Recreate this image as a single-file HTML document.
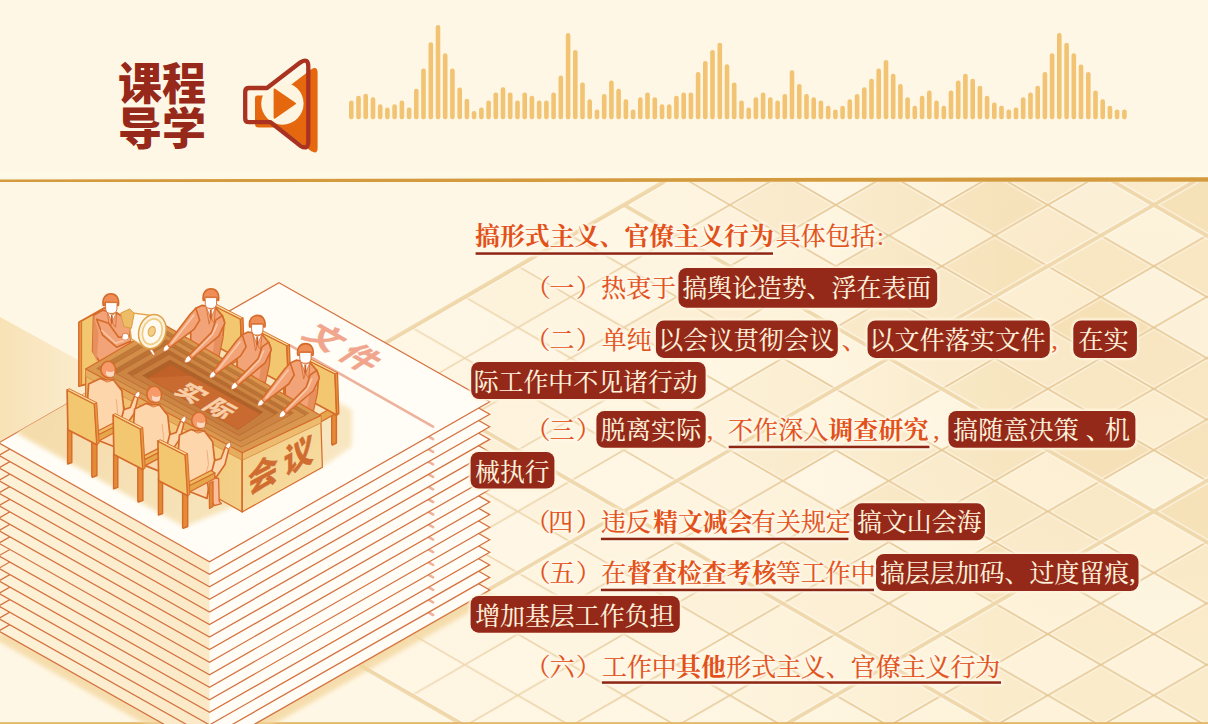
<!DOCTYPE html>
<html lang="zh-CN"><head><meta charset="utf-8"><title>课程导学</title>
<style>
html,body{margin:0;padding:0;background:#fff7e5;}
body{width:1208px;height:724px;overflow:hidden;position:relative;font-family:"Liberation Serif",serif;}
#stage{position:absolute;left:0;top:0;width:1208px;height:724px;overflow:hidden;background:#fff7e5;}
#stage svg{position:absolute;left:0;top:0;display:block;}
.sr{position:absolute;color:transparent;font-size:24.9px;line-height:36px;height:36px;white-space:nowrap;margin:0;padding:0;overflow:hidden;font-weight:normal;}
.sr b,.sr u,.sr mark{color:transparent;background:transparent;text-decoration:none;font-weight:normal;}
</style></head><body>
<div id="stage">
<svg width="1208" height="724" viewBox="0 0 1208 724">
<defs><filter id="tglow" x="-5%" y="-5%" width="110%" height="110%"><feGaussianBlur stdDeviation="1.3"/></filter><filter id="bglow" x="-5%" y="-20%" width="110%" height="140%"><feGaussianBlur stdDeviation="1.3"/></filter><pattern id="latc" patternUnits="userSpaceOnUse" width="106" height="61.31" patternTransform="translate(-12.2 -40.34)"><rect width="106" height="61.31" fill="#fef3da"/><path d="M0 0H106 L53 30.655 Z M0 61.31 H106 L53 30.655 Z" fill="#faebca"/></pattern><pattern id="latl" patternUnits="userSpaceOnUse" width="106" height="61.31" patternTransform="translate(-12.2 -40.34)"><path d="M0 0L106 61.31 M0 61.31 L106 0" stroke="#fff9ec" stroke-width="4.6" opacity=".6" fill="none"/><path d="M0 0L106 61.31 M0 61.31 L106 0" stroke="#e6c894" stroke-width="1.7" fill="none"/></pattern><clipPath id="latclip"><path d="M663.4 182.0L1208.0 182.0L1208.0 724.0L461.3 724.0L93.8 511.5"/></clipPath><linearGradient id="gThin" x1="380" x2="800" y1="0" y2="0" gradientUnits="userSpaceOnUse"><stop offset="0" stop-color="#fff" stop-opacity=".55"/><stop offset="1" stop-color="#fff" stop-opacity="1"/></linearGradient><mask id="mThin" maskUnits="userSpaceOnUse" x="0" y="0" width="1208" height="724"><rect width="1208" height="724" fill="url(#gThin)"/></mask><radialGradient id="tintR" cx="1150" cy="330" r="330" gradientUnits="userSpaceOnUse"><stop offset="0" stop-color="#f3d9a8" stop-opacity=".3"/><stop offset="1" stop-color="#f3d9a8" stop-opacity="0"/></radialGradient><linearGradient id="tintL" x1="360" x2="1000" y1="0" y2="0" gradientUnits="userSpaceOnUse"><stop offset="0" stop-color="#fff7e5" stop-opacity=".92"/><stop offset=".55" stop-color="#fff7e5" stop-opacity=".78"/><stop offset=".8" stop-color="#fff7e5" stop-opacity=".4"/><stop offset="1" stop-color="#fff7e5" stop-opacity="0"/></linearGradient><linearGradient id="wedge" x1="0" x2="1" y1="0" y2="0"><stop offset="0" stop-color="#f8e2b6"/><stop offset="1" stop-color="#fbeccd" stop-opacity=".55"/></linearGradient><linearGradient id="lface" x1="0" x2="1" y1="0" y2="0"><stop offset="0" stop-color="#fdf2d8"/><stop offset="1" stop-color="#fbe9c6"/></linearGradient><linearGradient id="topsh" gradientUnits="userSpaceOnUse" x1="60" y1="380" x2="330" y2="520"><stop offset="0" stop-color="#f5dba8"/><stop offset="1" stop-color="#f8e6bf"/></linearGradient><filter id="soft" x="-10%" y="-10%" width="120%" height="120%"><feGaussianBlur stdDeviation="4"/></filter><filter id="soft3" x="-10%" y="-10%" width="120%" height="120%"><feGaussianBlur stdDeviation="2"/></filter><filter id="soft2" x="-10%" y="-10%" width="120%" height="120%"><feGaussianBlur stdDeviation="2.2"/></filter><linearGradient id="tfR" x1="0" x2="1" y1="0" y2="1"><stop offset="0" stop-color="#f2cd84"/><stop offset="1" stop-color="#f8e0a8"/></linearGradient><linearGradient id="tfL" x1="0" x2="1" y1="0" y2="0"><stop offset="0" stop-color="#eebd6a"/><stop offset="1" stop-color="#f4d088"/></linearGradient></defs>
<rect width="1208" height="724" fill="#fff7e5"/><g clip-path="url(#latclip)"><rect x="0" y="182" width="1208" height="542" fill="url(#latc)"/><rect x="0" y="182" width="1208" height="542" fill="url(#tintR)"/><rect x="0" y="182" width="1208" height="542" fill="url(#tintL)"/><path d="M466.8 174.2l51.0 -29.5l51.0 29.5l-51.0 29.5z" fill="#fffbf0" opacity="0.13"/><path d="M678.8 174.2l51.0 -29.5l51.0 29.5l-51.0 29.5z" fill="#efcf97" opacity="0.14"/><path d="M784.8 174.2l51.0 -29.5l51.0 29.5l-51.0 29.5z" fill="#fffbf0" opacity="0.23"/><path d="M996.8 174.2l51.0 -29.5l51.0 29.5l-51.0 29.5z" fill="#efcf97" opacity="0.20"/><path d="M1102.8 174.2l51.0 -29.5l51.0 29.5l-51.0 29.5z" fill="#efcf97" opacity="0.12"/><path d="M1208.8 174.2l51.0 -29.5l51.0 29.5l-51.0 29.5z" fill="#fffbf0" opacity="0.50"/><path d="M413.8 204.9l51.0 -29.5l51.0 29.5l-51.0 29.5z" fill="#efcf97" opacity="0.07"/><path d="M572.8 235.6l51.0 -29.5l51.0 29.5l-51.0 29.5z" fill="#fffbf0" opacity="0.24"/><path d="M731.8 204.9l51.0 -29.5l51.0 29.5l-51.0 29.5z" fill="#efcf97" opacity="0.21"/><path d="M678.8 235.6l51.0 -29.5l51.0 29.5l-51.0 29.5z" fill="#efcf97" opacity="0.08"/><path d="M837.8 204.9l51.0 -29.5l51.0 29.5l-51.0 29.5z" fill="#efcf97" opacity="0.16"/><path d="M943.8 204.9l51.0 -29.5l51.0 29.5l-51.0 29.5z" fill="#efcf97" opacity="0.23"/><path d="M1049.8 204.9l51.0 -29.5l51.0 29.5l-51.0 29.5z" fill="#fffbf0" opacity="0.41"/><path d="M996.8 235.6l51.0 -29.5l51.0 29.5l-51.0 29.5z" fill="#efcf97" opacity="0.11"/><path d="M1155.8 204.9l51.0 -29.5l51.0 29.5l-51.0 29.5z" fill="#efcf97" opacity="0.25"/><path d="M1102.8 235.6l51.0 -29.5l51.0 29.5l-51.0 29.5z" fill="#fffbf0" opacity="0.34"/><path d="M1208.8 235.6l51.0 -29.5l51.0 29.5l-51.0 29.5z" fill="#fffbf0" opacity="0.34"/><path d="M466.8 296.9l51.0 -29.5l51.0 29.5l-51.0 29.5z" fill="#efcf97" opacity="0.10"/><path d="M678.8 296.9l51.0 -29.5l51.0 29.5l-51.0 29.5z" fill="#efcf97" opacity="0.20"/><path d="M837.8 266.2l51.0 -29.5l51.0 29.5l-51.0 29.5z" fill="#efcf97" opacity="0.19"/><path d="M943.8 266.2l51.0 -29.5l51.0 29.5l-51.0 29.5z" fill="#efcf97" opacity="0.21"/><path d="M890.8 296.9l51.0 -29.5l51.0 29.5l-51.0 29.5z" fill="#efcf97" opacity="0.25"/><path d="M1102.8 296.9l51.0 -29.5l51.0 29.5l-51.0 29.5z" fill="#fffbf0" opacity="0.46"/><path d="M413.8 327.5l51.0 -29.5l51.0 29.5l-51.0 29.5z" fill="#fffbf0" opacity="0.23"/><path d="M466.8 358.2l51.0 -29.5l51.0 29.5l-51.0 29.5z" fill="#fffbf0" opacity="0.20"/><path d="M625.8 327.5l51.0 -29.5l51.0 29.5l-51.0 29.5z" fill="#efcf97" opacity="0.13"/><path d="M837.8 327.5l51.0 -29.5l51.0 29.5l-51.0 29.5z" fill="#efcf97" opacity="0.18"/><path d="M943.8 327.5l51.0 -29.5l51.0 29.5l-51.0 29.5z" fill="#efcf97" opacity="0.20"/><path d="M890.8 358.2l51.0 -29.5l51.0 29.5l-51.0 29.5z" fill="#efcf97" opacity="0.13"/><path d="M1049.8 327.5l51.0 -29.5l51.0 29.5l-51.0 29.5z" fill="#efcf97" opacity="0.27"/><path d="M996.8 358.2l51.0 -29.5l51.0 29.5l-51.0 29.5z" fill="#efcf97" opacity="0.15"/><path d="M1155.8 327.5l51.0 -29.5l51.0 29.5l-51.0 29.5z" fill="#fffbf0" opacity="0.51"/><path d="M1102.8 358.2l51.0 -29.5l51.0 29.5l-51.0 29.5z" fill="#efcf97" opacity="0.20"/><path d="M466.8 419.5l51.0 -29.5l51.0 29.5l-51.0 29.5z" fill="#efcf97" opacity="0.09"/><path d="M625.8 388.8l51.0 -29.5l51.0 29.5l-51.0 29.5z" fill="#fffbf0" opacity="0.26"/><path d="M731.8 388.8l51.0 -29.5l51.0 29.5l-51.0 29.5z" fill="#efcf97" opacity="0.10"/><path d="M678.8 419.5l51.0 -29.5l51.0 29.5l-51.0 29.5z" fill="#efcf97" opacity="0.09"/><path d="M943.8 388.8l51.0 -29.5l51.0 29.5l-51.0 29.5z" fill="#efcf97" opacity="0.10"/><path d="M890.8 419.5l51.0 -29.5l51.0 29.5l-51.0 29.5z" fill="#fffbf0" opacity="0.36"/><path d="M413.8 450.1l51.0 -29.5l51.0 29.5l-51.0 29.5z" fill="#efcf97" opacity="0.13"/><path d="M572.8 480.8l51.0 -29.5l51.0 29.5l-51.0 29.5z" fill="#fffbf0" opacity="0.17"/><path d="M731.8 450.1l51.0 -29.5l51.0 29.5l-51.0 29.5z" fill="#efcf97" opacity="0.18"/><path d="M678.8 480.8l51.0 -29.5l51.0 29.5l-51.0 29.5z" fill="#efcf97" opacity="0.07"/><path d="M837.8 450.1l51.0 -29.5l51.0 29.5l-51.0 29.5z" fill="#efcf97" opacity="0.13"/><path d="M784.8 480.8l51.0 -29.5l51.0 29.5l-51.0 29.5z" fill="#fffbf0" opacity="0.23"/><path d="M943.8 450.1l51.0 -29.5l51.0 29.5l-51.0 29.5z" fill="#efcf97" opacity="0.13"/><path d="M890.8 480.8l51.0 -29.5l51.0 29.5l-51.0 29.5z" fill="#efcf97" opacity="0.18"/><path d="M1049.8 450.1l51.0 -29.5l51.0 29.5l-51.0 29.5z" fill="#efcf97" opacity="0.29"/><path d="M1155.8 450.1l51.0 -29.5l51.0 29.5l-51.0 29.5z" fill="#efcf97" opacity="0.16"/><path d="M1102.8 480.8l51.0 -29.5l51.0 29.5l-51.0 29.5z" fill="#fffbf0" opacity="0.36"/><path d="M1261.8 450.1l51.0 -29.5l51.0 29.5l-51.0 29.5z" fill="#efcf97" opacity="0.29"/><path d="M413.8 511.4l51.0 -29.5l51.0 29.5l-51.0 29.5z" fill="#fffbf0" opacity="0.18"/><path d="M519.8 511.4l51.0 -29.5l51.0 29.5l-51.0 29.5z" fill="#efcf97" opacity="0.06"/><path d="M466.8 542.1l51.0 -29.5l51.0 29.5l-51.0 29.5z" fill="#fffbf0" opacity="0.15"/><path d="M572.8 542.1l51.0 -29.5l51.0 29.5l-51.0 29.5z" fill="#efcf97" opacity="0.05"/><path d="M837.8 511.4l51.0 -29.5l51.0 29.5l-51.0 29.5z" fill="#efcf97" opacity="0.21"/><path d="M784.8 542.1l51.0 -29.5l51.0 29.5l-51.0 29.5z" fill="#efcf97" opacity="0.19"/><path d="M996.8 542.1l51.0 -29.5l51.0 29.5l-51.0 29.5z" fill="#efcf97" opacity="0.18"/><path d="M1155.8 511.4l51.0 -29.5l51.0 29.5l-51.0 29.5z" fill="#efcf97" opacity="0.27"/><path d="M1208.8 542.1l51.0 -29.5l51.0 29.5l-51.0 29.5z" fill="#fffbf0" opacity="0.32"/><path d="M678.8 603.4l51.0 -29.5l51.0 29.5l-51.0 29.5z" fill="#efcf97" opacity="0.13"/><path d="M837.8 572.8l51.0 -29.5l51.0 29.5l-51.0 29.5z" fill="#fffbf0" opacity="0.25"/><path d="M784.8 603.4l51.0 -29.5l51.0 29.5l-51.0 29.5z" fill="#efcf97" opacity="0.14"/><path d="M943.8 572.8l51.0 -29.5l51.0 29.5l-51.0 29.5z" fill="#efcf97" opacity="0.25"/><path d="M1049.8 572.8l51.0 -29.5l51.0 29.5l-51.0 29.5z" fill="#fffbf0" opacity="0.53"/><path d="M1102.8 603.4l51.0 -29.5l51.0 29.5l-51.0 29.5z" fill="#fffbf0" opacity="0.32"/><path d="M1261.8 572.8l51.0 -29.5l51.0 29.5l-51.0 29.5z" fill="#efcf97" opacity="0.14"/><path d="M1208.8 603.4l51.0 -29.5l51.0 29.5l-51.0 29.5z" fill="#efcf97" opacity="0.24"/><g mask="url(#mThin)"><rect x="0" y="182" width="1208" height="542" fill="url(#latl)"/></g><path d="M-20.0 577.3L1230.0 -145.7M-20.0 883.8L1230.0 160.8M-20.0 1190.4L1230.0 467.4M-20.0 1496.9L1230.0 773.9M-20.0 -474.0L1230.0 249.0M-20.0 -167.5L1230.0 555.5M-20.0 139.1L1230.0 862.1M-20.0 445.6L1230.0 1168.6" stroke="#fffaee" stroke-width="7" opacity=".5" fill="none"/><path d="M-20.0 577.3L1230.0 -145.7M-20.0 883.8L1230.0 160.8M-20.0 1190.4L1230.0 467.4M-20.0 1496.9L1230.0 773.9M-20.0 -474.0L1230.0 249.0M-20.0 -167.5L1230.0 555.5M-20.0 139.1L1230.0 862.1M-20.0 445.6L1230.0 1168.6" stroke="#eed6a8" stroke-width="3.8" opacity=".9" fill="none"/></g><path d="M663.4 182.0L93.8 511.5L461.3 724.0" stroke="#eed6a8" stroke-width="3.8" opacity=".9" fill="none" stroke-linejoin="round"/><path d="M0 317 L80 361 L150 400 L150 470 L0 470Z" fill="url(#wedge)"/>
<rect x="0" y="171.5" width="1208" height="6" fill="#fffbe9" opacity=".6"/><path d="M0 179.4L1208 177.2V181.7L0 182.1Z" fill="#d39b3e"/><rect x="0" y="722.2" width="1208" height="1.8" fill="#e3b568"/><g fill="#f1c372"><rect x="349" y="100.6" width="4.6" height="18.6" rx="2.2"/><rect x="356.2" y="95.7" width="4.6" height="23.5" rx="2.2"/><rect x="363.4" y="93.7" width="4.6" height="25.5" rx="2.2"/><rect x="370.7" y="97.3" width="4.6" height="21.9" rx="2.2"/><rect x="377.9" y="104.3" width="4.6" height="14.9" rx="2.2"/><rect x="385.1" y="107.5" width="4.6" height="11.7" rx="2.2"/><rect x="392.3" y="104.3" width="4.6" height="14.9" rx="2.2"/><rect x="399.6" y="100.6" width="4.6" height="18.6" rx="2.2"/><rect x="406.8" y="107.5" width="4.6" height="11.7" rx="2.2"/><rect x="414" y="88.8" width="4.6" height="30.4" rx="2.2"/><rect x="421.2" y="68.4" width="4.6" height="50.8" rx="2.2"/><rect x="428.5" y="42.3" width="4.6" height="76.9" rx="2.2"/><rect x="435.7" y="25" width="4.6" height="94.2" rx="2.2"/><rect x="442.9" y="53.3" width="4.6" height="65.9" rx="2.2"/><rect x="450.1" y="68.4" width="4.6" height="50.8" rx="2.2"/><rect x="457.4" y="87.5" width="4.6" height="31.7" rx="2.2"/><rect x="464.6" y="98.8" width="4.6" height="20.4" rx="2.2"/><rect x="471.8" y="111" width="4.6" height="8.2" rx="2.2"/><rect x="479.1" y="107.5" width="4.6" height="11.7" rx="2.2"/><rect x="486.3" y="100.6" width="4.6" height="18.6" rx="2.2"/><rect x="493.5" y="92.4" width="4.6" height="26.8" rx="2.2"/><rect x="500.7" y="87.3" width="4.6" height="31.9" rx="2.2"/><rect x="507.9" y="92.4" width="4.6" height="26.8" rx="2.2"/><rect x="515.2" y="100.6" width="4.6" height="18.6" rx="2.2"/><rect x="522.4" y="92.4" width="4.6" height="26.8" rx="2.2"/><rect x="529.6" y="95.7" width="4.6" height="23.5" rx="2.2"/><rect x="536.9" y="100.6" width="4.6" height="18.6" rx="2.2"/><rect x="544.1" y="100.6" width="4.6" height="18.6" rx="2.2"/><rect x="551.3" y="92.4" width="4.6" height="26.8" rx="2.2"/><rect x="558.5" y="75.5" width="4.6" height="43.7" rx="2.2"/><rect x="565.8" y="32.9" width="4.6" height="86.3" rx="2.2"/><rect x="573" y="50" width="4.6" height="69.2" rx="2.2"/><rect x="580.2" y="82.4" width="4.6" height="36.8" rx="2.2"/><rect x="587.4" y="99.2" width="4.6" height="20" rx="2.2"/><rect x="594.7" y="109.4" width="4.6" height="9.8" rx="2.2"/><rect x="601.9" y="94.1" width="4.6" height="25.1" rx="2.2"/><rect x="609.1" y="80.6" width="4.6" height="38.6" rx="2.2"/><rect x="616.3" y="88.8" width="4.6" height="30.4" rx="2.2"/><rect x="623.6" y="99.2" width="4.6" height="20" rx="2.2"/><rect x="630.8" y="109.4" width="4.6" height="9.8" rx="2.2"/><rect x="638" y="97.3" width="4.6" height="21.9" rx="2.2"/><rect x="645.2" y="92.4" width="4.6" height="26.8" rx="2.2"/><rect x="652.5" y="97.3" width="4.6" height="21.9" rx="2.2"/><rect x="659.7" y="104.3" width="4.6" height="14.9" rx="2.2"/><rect x="666.9" y="104.3" width="4.6" height="14.9" rx="2.2"/><rect x="674.1" y="95.7" width="4.6" height="23.5" rx="2.2"/><rect x="681.4" y="92.4" width="4.6" height="26.8" rx="2.2"/><rect x="688.6" y="92.4" width="4.6" height="26.8" rx="2.2"/><rect x="695.8" y="72" width="4.6" height="47.2" rx="2.2"/><rect x="703" y="61.1" width="4.6" height="58.1" rx="2.2"/><rect x="710.2" y="50" width="4.6" height="69.2" rx="2.2"/><rect x="717.5" y="42.7" width="4.6" height="76.5" rx="2.2"/><rect x="724.7" y="64.2" width="4.6" height="55" rx="2.2"/><rect x="731.9" y="82.4" width="4.6" height="36.8" rx="2.2"/><rect x="739.2" y="100.6" width="4.6" height="18.6" rx="2.2"/><rect x="746.4" y="107.5" width="4.6" height="11.7" rx="2.2"/><rect x="753.6" y="97.3" width="4.6" height="21.9" rx="2.2"/><rect x="760.8" y="92.4" width="4.6" height="26.8" rx="2.2"/><rect x="768" y="97.3" width="4.6" height="21.9" rx="2.2"/><rect x="775.3" y="100.6" width="4.6" height="18.6" rx="2.2"/><rect x="782.5" y="94.1" width="4.6" height="25.1" rx="2.2"/><rect x="789.7" y="70.2" width="4.6" height="49" rx="2.2"/><rect x="797" y="83.9" width="4.6" height="35.3" rx="2.2"/><rect x="804.2" y="94.1" width="4.6" height="25.1" rx="2.2"/><rect x="811.4" y="97.3" width="4.6" height="21.9" rx="2.2"/><rect x="818.6" y="100.6" width="4.6" height="18.6" rx="2.2"/><rect x="825.9" y="105.7" width="4.6" height="13.5" rx="2.2"/><rect x="833.1" y="109.4" width="4.6" height="9.8" rx="2.2"/><rect x="840.3" y="105.7" width="4.6" height="13.5" rx="2.2"/><rect x="847.5" y="99.2" width="4.6" height="20" rx="2.2"/><rect x="854.8" y="94.1" width="4.6" height="25.1" rx="2.2"/><rect x="862" y="87.3" width="4.6" height="31.9" rx="2.2"/><rect x="869.2" y="78.8" width="4.6" height="40.4" rx="2.2"/><rect x="876.4" y="68.6" width="4.6" height="50.6" rx="2.2"/><rect x="883.7" y="60" width="4.6" height="59.2" rx="2.2"/><rect x="890.9" y="73.7" width="4.6" height="45.5" rx="2.2"/><rect x="898.1" y="83.9" width="4.6" height="35.3" rx="2.2"/><rect x="905.3" y="97.3" width="4.6" height="21.9" rx="2.2"/><rect x="912.5" y="105.7" width="4.6" height="13.5" rx="2.2"/><rect x="919.8" y="95.7" width="4.6" height="23.5" rx="2.2"/><rect x="927" y="90.6" width="4.6" height="28.6" rx="2.2"/><rect x="934.2" y="100.6" width="4.6" height="18.6" rx="2.2"/><rect x="941.5" y="105.7" width="4.6" height="13.5" rx="2.2"/><rect x="948.7" y="90.6" width="4.6" height="28.6" rx="2.2"/><rect x="955.9" y="80.6" width="4.6" height="38.6" rx="2.2"/><rect x="963.1" y="73.7" width="4.6" height="45.5" rx="2.2"/><rect x="970.4" y="78.8" width="4.6" height="40.4" rx="2.2"/><rect x="977.6" y="85.7" width="4.6" height="33.5" rx="2.2"/><rect x="984.8" y="95.7" width="4.6" height="23.5" rx="2.2"/><rect x="992" y="102.4" width="4.6" height="16.8" rx="2.2"/><rect x="999.2" y="105.7" width="4.6" height="13.5" rx="2.2"/><rect x="1006.5" y="109.4" width="4.6" height="9.8" rx="2.2"/><rect x="1013.7" y="107.5" width="4.6" height="11.7" rx="2.2"/><rect x="1020.9" y="97.3" width="4.6" height="21.9" rx="2.2"/><rect x="1028.2" y="92.4" width="4.6" height="26.8" rx="2.2"/><rect x="1035.4" y="85.7" width="4.6" height="33.5" rx="2.2"/><rect x="1042.6" y="72" width="4.6" height="47.2" rx="2.2"/><rect x="1049.8" y="53.3" width="4.6" height="65.9" rx="2.2"/><rect x="1057" y="32.9" width="4.6" height="86.3" rx="2.2"/><rect x="1064.3" y="42.7" width="4.6" height="76.5" rx="2.2"/><rect x="1071.5" y="53.3" width="4.6" height="65.9" rx="2.2"/><rect x="1078.7" y="64.5" width="4.6" height="54.7" rx="2.2"/><rect x="1086" y="72" width="4.6" height="47.2" rx="2.2"/><rect x="1093.2" y="90.6" width="4.6" height="28.6" rx="2.2"/><rect x="1100.4" y="99.2" width="4.6" height="20" rx="2.2"/><rect x="1107.6" y="105.7" width="4.6" height="13.5" rx="2.2"/><rect x="1114.8" y="109.4" width="4.6" height="9.8" rx="2.2"/><rect x="1122.1" y="109.4" width="4.6" height="9.8" rx="2.2"/></g><path d="M257 95.5 H277 L311 69.5 Q317.6 65.5 317.6 73 V148 Q317.6 155 311 151 L280 127.6 H258.5 Q255 127.6 255 124 V98 Q255 95.5 257 95.5Z" fill="#e5680f"/><circle cx="282.4" cy="103.5" r="21.2" fill="#fef5e1"/><path d="M274.6 89.6 L295 103.5 L274.6 117.6Z" fill="#e5680f" stroke="#e5680f" stroke-width="2" stroke-linejoin="round"/><path d="M249 88 H267 L300.5 62.3 Q308.3 57.5 308.3 66.5 V141.5 Q308.3 150.5 300.5 145.8 L270.5 122.2 H249 Q245.2 122.2 245.2 118.4 V91.8 Q245.2 88 249 88Z" fill="none" stroke="#a93320" stroke-width="4.3" stroke-linejoin="round"/><g fill="#96291a" font-family="'Liberation Sans','Noto Sans CJK SC',sans-serif" font-size="44" font-weight="900"><text x="118 162" y="100">课程</text><text x="118 162" y="145">导学</text></g>
<path d="M279 477.9L495.7 597L209.5 761L-7.2 638Z" fill="#f3d49a" opacity=".75" filter="url(#soft2)"/><path d="M279 470.9L489.7 590L209.5 750L-1.2 631Z" fill="#fffdf6"/><path d="M290 533.6L433.1 615" fill="none" stroke="#eeb29c" stroke-width="2.6" stroke-linecap="round" stroke-linejoin="round"/><path d="M-1.2 631L209.5 750L209.5 737.5L-1.2 618.5Z" fill="url(#lface)"/><path d="M279 470.9L489.7 590L209.5 750L-1.2 631Z" fill="none" stroke="#d4713f" stroke-width="1.25" stroke-linejoin="miter"/><path d="M279 458.4L489.7 577.4L209.5 737.5L-1.2 618.5Z" fill="#fffdf6"/><path d="M290 521.1L433.1 602.4" fill="none" stroke="#eeb29c" stroke-width="2.6" stroke-linecap="round" stroke-linejoin="round"/><path d="M-1.2 618.5L209.5 737.5L209.5 725L-1.2 606Z" fill="url(#lface)"/><path d="M279 458.4L489.7 577.4L209.5 737.5L-1.2 618.5Z" fill="none" stroke="#d4713f" stroke-width="1.25" stroke-linejoin="miter"/><path d="M279 445.9L489.7 564.9L209.5 724.9L-1.2 606Z" fill="#fffdf6"/><path d="M290 508.5L433.1 589.9" fill="none" stroke="#eeb29c" stroke-width="2.6" stroke-linecap="round" stroke-linejoin="round"/><path d="M-1.2 606L209.5 724.9L209.5 712.4L-1.2 593.4Z" fill="url(#lface)"/><path d="M279 445.9L489.7 564.9L209.5 724.9L-1.2 606Z" fill="none" stroke="#d4713f" stroke-width="1.25" stroke-linejoin="miter"/><path d="M279 433.3L489.7 552.3L209.5 712.4L-1.2 593.4Z" fill="#fffdf6"/><path d="M290 496L433.1 577.3" fill="none" stroke="#eeb29c" stroke-width="2.6" stroke-linecap="round" stroke-linejoin="round"/><path d="M-1.2 593.4L209.5 712.4L209.5 699.9L-1.2 580.9Z" fill="url(#lface)"/><path d="M279 433.3L489.7 552.3L209.5 712.4L-1.2 593.4Z" fill="none" stroke="#d4713f" stroke-width="1.25" stroke-linejoin="miter"/><path d="M279 420.8L489.7 539.8L209.5 699.8L-1.2 580.9Z" fill="#fffdf6"/><path d="M290 483.4L433.1 564.8" fill="none" stroke="#eeb29c" stroke-width="2.6" stroke-linecap="round" stroke-linejoin="round"/><path d="M-1.2 580.9L209.5 699.8L209.5 687.3L-1.2 568.3Z" fill="url(#lface)"/><path d="M279 420.8L489.7 539.8L209.5 699.8L-1.2 580.9Z" fill="none" stroke="#d4713f" stroke-width="1.25" stroke-linejoin="miter"/><path d="M279 408.2L489.7 527.2L209.5 687.3L-1.2 568.3Z" fill="#fffdf6"/><path d="M290 470.9L433.1 552.2" fill="none" stroke="#eeb29c" stroke-width="2.6" stroke-linecap="round" stroke-linejoin="round"/><path d="M-1.2 568.3L209.5 687.3L209.5 674.8L-1.2 555.8Z" fill="url(#lface)"/><path d="M279 408.2L489.7 527.2L209.5 687.3L-1.2 568.3Z" fill="none" stroke="#d4713f" stroke-width="1.25" stroke-linejoin="miter"/><path d="M279 395.6L489.7 514.6L209.5 674.8L-1.2 555.8Z" fill="#fffdf6"/><path d="M290 458.3L433.1 539.6" fill="none" stroke="#eeb29c" stroke-width="2.6" stroke-linecap="round" stroke-linejoin="round"/><path d="M-1.2 555.8L209.5 674.8L209.5 662.2L-1.2 543.2Z" fill="url(#lface)"/><path d="M279 395.6L489.7 514.6L209.5 674.8L-1.2 555.8Z" fill="none" stroke="#d4713f" stroke-width="1.25" stroke-linejoin="miter"/><path d="M279 383.1L489.7 502.1L209.5 662.2L-1.2 543.2Z" fill="#fffdf6"/><path d="M290 445.8L433.1 527.1" fill="none" stroke="#eeb29c" stroke-width="2.6" stroke-linecap="round" stroke-linejoin="round"/><path d="M-1.2 543.2L209.5 662.2L209.5 649.6L-1.2 530.7Z" fill="url(#lface)"/><path d="M279 383.1L489.7 502.1L209.5 662.2L-1.2 543.2Z" fill="none" stroke="#d4713f" stroke-width="1.25" stroke-linejoin="miter"/><path d="M279 370.6L489.7 489.6L209.5 649.6L-1.2 530.6Z" fill="#fffdf6"/><path d="M290 433.2L433.1 514.5" fill="none" stroke="#eeb29c" stroke-width="2.6" stroke-linecap="round" stroke-linejoin="round"/><path d="M-1.2 530.6L209.5 649.6L209.5 637.1L-1.2 518.1Z" fill="url(#lface)"/><path d="M279 370.6L489.7 489.6L209.5 649.6L-1.2 530.6Z" fill="none" stroke="#d4713f" stroke-width="1.25" stroke-linejoin="miter"/><path d="M279 358L489.7 477L209.5 637.1L-1.2 518.1Z" fill="#fffdf6"/><path d="M290 420.7L433.1 502" fill="none" stroke="#eeb29c" stroke-width="2.6" stroke-linecap="round" stroke-linejoin="round"/><path d="M-1.2 518.1L209.5 637.1L209.5 624.5L-1.2 505.6Z" fill="url(#lface)"/><path d="M279 358L489.7 477L209.5 637.1L-1.2 518.1Z" fill="none" stroke="#d4713f" stroke-width="1.25" stroke-linejoin="miter"/><path d="M279 345.4L489.7 464.4L209.5 624.5L-1.2 505.6Z" fill="#fffdf6"/><path d="M290 408.1L433.1 489.4" fill="none" stroke="#eeb29c" stroke-width="2.6" stroke-linecap="round" stroke-linejoin="round"/><path d="M-1.2 505.6L209.5 624.5L209.5 612L-1.2 493Z" fill="url(#lface)"/><path d="M279 345.4L489.7 464.4L209.5 624.5L-1.2 505.6Z" fill="none" stroke="#d4713f" stroke-width="1.25" stroke-linejoin="miter"/><path d="M279 332.9L489.7 451.9L209.5 612L-1.2 493Z" fill="#fffdf6"/><path d="M290 395.6L433.1 476.9" fill="none" stroke="#eeb29c" stroke-width="2.6" stroke-linecap="round" stroke-linejoin="round"/><path d="M-1.2 493L209.5 612L209.5 599.5L-1.2 480.4Z" fill="url(#lface)"/><path d="M279 332.9L489.7 451.9L209.5 612L-1.2 493Z" fill="none" stroke="#d4713f" stroke-width="1.25" stroke-linejoin="miter"/><path d="M279 320.4L489.7 439.4L209.5 599.4L-1.2 480.5Z" fill="#fffdf6"/><path d="M290 383L433.1 464.4" fill="none" stroke="#eeb29c" stroke-width="2.6" stroke-linecap="round" stroke-linejoin="round"/><path d="M-1.2 480.5L209.5 599.4L209.5 586.9L-1.2 467.9Z" fill="url(#lface)"/><path d="M279 320.4L489.7 439.4L209.5 599.4L-1.2 480.5Z" fill="none" stroke="#d4713f" stroke-width="1.25" stroke-linejoin="miter"/><path d="M279 307.8L489.7 426.8L209.5 586.9L-1.2 467.9Z" fill="#fffdf6"/><path d="M290 370.5L433.1 451.8" fill="none" stroke="#eeb29c" stroke-width="2.6" stroke-linecap="round" stroke-linejoin="round"/><path d="M-1.2 467.9L209.5 586.9L209.5 574.4L-1.2 455.4Z" fill="url(#lface)"/><path d="M279 307.8L489.7 426.8L209.5 586.9L-1.2 467.9Z" fill="none" stroke="#d4713f" stroke-width="1.25" stroke-linejoin="miter"/><path d="M279 295.2L489.7 414.2L209.5 574.3L-1.2 455.4Z" fill="#fffdf6"/><path d="M290 357.9L433.1 439.2" fill="none" stroke="#eeb29c" stroke-width="2.6" stroke-linecap="round" stroke-linejoin="round"/><path d="M-1.2 455.4L209.5 574.3L209.5 561.8L-1.2 442.8Z" fill="url(#lface)"/><path d="M279 295.2L489.7 414.2L209.5 574.3L-1.2 455.4Z" fill="none" stroke="#d4713f" stroke-width="1.25" stroke-linejoin="miter"/><path d="M279 282.7L489.7 401.7L209.5 561.8L-1.2 442.8Z" fill="#fffdf6"/><path d="M290 345.4L433.1 426.7" fill="none" stroke="#eeb29c" stroke-width="2.6" stroke-linecap="round" stroke-linejoin="round"/><path d="M279 282.7L489.7 401.7L209.5 561.8L-1.2 442.8Z" fill="none" stroke="#d4713f" stroke-width="1.25" stroke-linejoin="miter"/><g fill="#f0a58c" opacity="1" stroke="#f0a58c" stroke-width="0.5" stroke-linejoin="round" font-family="'Liberation Sans','Noto Sans CJK SC',sans-serif" font-size="34" font-weight="bold"><text transform="matrix(0.86 0.49 -0.8 0.55 299.6 335.5)" x="1" y="0">文</text><text transform="matrix(0.86 0.49 -0.8 0.55 335.6 356)" x="1" y="0">件</text></g><clipPath id="sheetclip"><path d="M279 282.7L489.7 401.7L209.5 561.8L-1.2 442.8Z"/></clipPath><g clip-path="url(#sheetclip)"><path d="M18 434L184 527L250 500L330 462L352 446L352 410L150 296L16 372Z" fill="url(#topsh)" filter="url(#soft3)" opacity=".95"/></g><path d="M237.2 358.2L241.9 360.7L241.9 388.2L237.9 390.2L237.2 389.2Z" fill="#e58a36" stroke="#d56b2a" stroke-width="1.4" stroke-linejoin="round"/><path d="M242.2 350.2L242.2 358.2L222.7 369.2L222.7 361.2Z" fill="#e6a64c" stroke="#d56b2a" stroke-width="1.3" stroke-linejoin="round"/><path d="M212.7 305L240.5 319L242.2 360.2L212.7 344.2Z" fill="#f3c76f" stroke="#d56b2a" stroke-width="1.7" stroke-linejoin="round"/><path d="M240.5 319L243 318L244.3 358.8L242.2 360.2Z" fill="#e9973f" stroke="#d56b2a" stroke-width="1.3" stroke-linejoin="round"/><path d="M212.7 305L215.1 303.6L243 318L240.5 319Z" fill="#f8dc96" stroke="#d56b2a" stroke-width="0.9" stroke-linejoin="round"/><path d="M283.6 384.8L288.3 387.3L288.3 414.8L284.3 416.8L283.6 415.8Z" fill="#e58a36" stroke="#d56b2a" stroke-width="1.4" stroke-linejoin="round"/><path d="M288.6 376.8L288.6 384.8L269.1 395.8L269.1 387.8Z" fill="#e6a64c" stroke="#d56b2a" stroke-width="1.3" stroke-linejoin="round"/><path d="M259.1 331.6L286.9 345.6L288.6 386.8L259.1 370.8Z" fill="#f3c76f" stroke="#d56b2a" stroke-width="1.7" stroke-linejoin="round"/><path d="M286.9 345.6L289.4 344.6L290.7 385.4L288.6 386.8Z" fill="#e9973f" stroke="#d56b2a" stroke-width="1.3" stroke-linejoin="round"/><path d="M259.1 331.6L261.5 330.2L289.4 344.6L286.9 345.6Z" fill="#f8dc96" stroke="#d56b2a" stroke-width="0.9" stroke-linejoin="round"/><path d="M331.7 413L336.4 415.5L336.4 443L332.4 445L331.7 444Z" fill="#e58a36" stroke="#d56b2a" stroke-width="1.4" stroke-linejoin="round"/><path d="M336.7 405L336.7 413L317.2 424L317.2 416Z" fill="#e6a64c" stroke="#d56b2a" stroke-width="1.3" stroke-linejoin="round"/><path d="M307.2 359.8L335 373.8L336.7 415L307.2 399Z" fill="#f3c76f" stroke="#d56b2a" stroke-width="1.7" stroke-linejoin="round"/><path d="M335 373.8L337.5 372.8L338.8 413.6L336.7 415Z" fill="#e9973f" stroke="#d56b2a" stroke-width="1.3" stroke-linejoin="round"/><path d="M307.2 359.8L309.6 358.4L337.5 372.8L335 373.8Z" fill="#f8dc96" stroke="#d56b2a" stroke-width="0.9" stroke-linejoin="round"/><path d="M79 322.2L104.6 307.7L128.6 320.7L128.6 373.2L79 386.2Z" fill="#f3c76f" stroke="#d56b2a" stroke-width="1.8" stroke-linejoin="round"/><path d="M79 322.2L81.6 320.6L81.6 384.8L79 386.2Z" fill="#e9973f" stroke="#d56b2a" stroke-width="0.9" stroke-linejoin="round"/><path d="M84.6 369.2L112.6 355.2L112.6 361.2L84.6 375.2Z" fill="#f8dc96"/><path d="M93.6 315.2L102.6 310.2L107.6 311.2L111.6 316.2L116.6 312.7L123.6 317.2L130.6 327.2L128.6 355.2L104.6 369.2L92.6 351.2Z" fill="#f2a378" stroke="#d56b2a" stroke-width="1.7" stroke-linejoin="round"/><path d="M93.6 315.2L98.6 333.2L96.6 361.2L92.6 351.2Z" fill="#e88f5e"/><path d="M107.2 311.4L111.8 322.2L116.6 312.8L113 314.6L110.2 314Z" fill="#fff" stroke="#d56b2a" stroke-width="0.7" stroke-linejoin="round"/><path d="M111 315L112.7 315.2L112.8 322.2L111.8 324.2L110.8 322.2Z" fill="#c9602a"/><path d="M107.2 311.4L109.6 329.2L111.8 322.2" fill="none" stroke="#d56b2a" stroke-width="0.8" stroke-linecap="round" stroke-linejoin="round"/><path d="M116.6 312.8L115.6 327.2L111.8 322.2" fill="none" stroke="#d56b2a" stroke-width="0.8" stroke-linecap="round" stroke-linejoin="round"/><path d="M96.6 319.2L102.6 335.2L116.6 347.2L130.6 341.2L131.6 336.2L118.6 337.2L108.6 323.2Z" fill="#f2a378" stroke="#d56b2a" stroke-width="1.6" stroke-linejoin="round"/><path d="M101.6 330.2L115.6 343.2L127.6 339.2" fill="none" stroke="#fac9a8" stroke-width="1.5" stroke-linecap="round" stroke-linejoin="round"/><path d="M130.1 335.4L135.6 333.6L138.8 336.6L137 340.6L131 341.6Z" fill="#fff" stroke="#d56b2a" stroke-width="0.8" stroke-linejoin="round"/><path d="M103.2 305.4 c-1.4 -7.6 3 -11.6 7.7 -11.6 c4.9 0 8.7 4 7.5 11.6 l-1.6 -0.2 l-0.2 -2.6 l-11.4 -0.2 l-0.2 2.8z" fill="#f08e57" stroke="#d56b2a" stroke-width="1.6" stroke-linejoin="round"/><path d="M105.5 302.6 h11.6 l-0.2 6.8 q-0.5 4 -3.9 4 h-3.4 q-3.6 0 -3.9 -4z" fill="#ffffff" stroke="#d56b2a" stroke-width="0.9" stroke-linejoin="round"/><path d="M195.8 308.2L201.7 305.4L206.7 306.2L210.7 311.2L215.2 307.4L222.3 315.6L224.3 321.2L222.7 338.2L218.7 356.2L202.7 350.2L190.7 340.2L190.7 326.2Z" fill="#f2a378" stroke="#d56b2a" stroke-width="1.7" stroke-linejoin="round"/><path d="M216.7 328.2L222.7 336.2L218.7 355.2L212.7 352.2Z" fill="#e88f5e"/><path d="M206.1 306.4L210.9 318.2L215.5 307.6L211.7 309.4L209.1 308.8Z" fill="#fff" stroke="#d56b2a" stroke-width="0.7" stroke-linejoin="round"/><path d="M209.9 309.8L211.7 310L211.9 317.7L210.9 319.7L209.8 317.7Z" fill="#c9602a"/><path d="M206.1 306.4L209.2 324.2L210.9 318.2" fill="none" stroke="#d56b2a" stroke-width="0.8" stroke-linecap="round" stroke-linejoin="round"/><path d="M215.5 307.6L214.2 323.2L210.9 318.2" fill="none" stroke="#d56b2a" stroke-width="0.8" stroke-linecap="round" stroke-linejoin="round"/><path d="M203.3 300.4 c-1.4 -7.6 3 -11.6 7.7 -11.6 c4.9 0 8.7 4 7.5 11.6 l-1.6 -0.2 l-0.2 -2.6 l-11.4 -0.2 l-0.2 2.8z" fill="#f08e57" stroke="#d56b2a" stroke-width="1.6" stroke-linejoin="round"/><path d="M205.1 297.6 h11.6 l-0.2 6.8 q-0.5 4 -3.9 4 h-3.4 q-3.6 0 -3.9 -4z" fill="#ffffff" stroke="#d56b2a" stroke-width="0.9" stroke-linejoin="round"/><path d="M242.2 334.8L248.1 332L253.1 332.8L257.1 337.8L261.6 334L268.7 342.2L270.7 347.8L269.1 364.8L265.1 382.8L249.1 376.8L237.1 366.8L237.1 352.8Z" fill="#f2a378" stroke="#d56b2a" stroke-width="1.7" stroke-linejoin="round"/><path d="M263.1 354.8L269.1 362.8L265.1 381.8L259.1 378.8Z" fill="#e88f5e"/><path d="M252.5 333L257.3 344.8L261.9 334.2L258.1 336L255.5 335.4Z" fill="#fff" stroke="#d56b2a" stroke-width="0.7" stroke-linejoin="round"/><path d="M256.3 336.4L258.1 336.6L258.3 344.3L257.3 346.3L256.2 344.3Z" fill="#c9602a"/><path d="M252.5 333L255.6 350.8L257.3 344.8" fill="none" stroke="#d56b2a" stroke-width="0.8" stroke-linecap="round" stroke-linejoin="round"/><path d="M261.9 334.2L260.6 349.8L257.3 344.8" fill="none" stroke="#d56b2a" stroke-width="0.8" stroke-linecap="round" stroke-linejoin="round"/><path d="M249.7 327 c-1.4 -7.6 3 -11.6 7.7 -11.6 c4.9 0 8.7 4 7.5 11.6 l-1.6 -0.2 l-0.2 -2.6 l-11.4 -0.2 l-0.2 2.8z" fill="#f08e57" stroke="#d56b2a" stroke-width="1.6" stroke-linejoin="round"/><path d="M251.5 324.2 h11.6 l-0.2 6.8 q-0.5 4 -3.9 4 h-3.4 q-3.6 0 -3.9 -4z" fill="#ffffff" stroke="#d56b2a" stroke-width="0.9" stroke-linejoin="round"/><path d="M290.3 363L296.2 360.2L301.2 361L305.2 366L309.7 362.2L316.8 370.4L318.8 376L317.2 393L313.2 411L297.2 405L285.2 395L285.2 381Z" fill="#f2a378" stroke="#d56b2a" stroke-width="1.7" stroke-linejoin="round"/><path d="M311.2 383L317.2 391L313.2 410L307.2 407Z" fill="#e88f5e"/><path d="M300.6 361.2L305.4 373L310 362.4L306.2 364.2L303.6 363.6Z" fill="#fff" stroke="#d56b2a" stroke-width="0.7" stroke-linejoin="round"/><path d="M304.4 364.6L306.2 364.8L306.4 372.5L305.4 374.5L304.3 372.5Z" fill="#c9602a"/><path d="M300.6 361.2L303.7 379L305.4 373" fill="none" stroke="#d56b2a" stroke-width="0.8" stroke-linecap="round" stroke-linejoin="round"/><path d="M310 362.4L308.7 378L305.4 373" fill="none" stroke="#d56b2a" stroke-width="0.8" stroke-linecap="round" stroke-linejoin="round"/><path d="M297.8 355.2 c-1.4 -7.6 3 -11.6 7.7 -11.6 c4.9 0 8.7 4 7.5 11.6 l-1.6 -0.2 l-0.2 -2.6 l-11.4 -0.2 l-0.2 2.8z" fill="#f08e57" stroke="#d56b2a" stroke-width="1.6" stroke-linejoin="round"/><path d="M299.6 352.4 h11.6 l-0.2 6.8 q-0.5 4 -3.9 4 h-3.4 q-3.6 0 -3.9 -4z" fill="#ffffff" stroke="#d56b2a" stroke-width="0.9" stroke-linejoin="round"/><path d="M85.7 369L242.2 452.8L242.2 511.9L85.7 424.3Z" fill="url(#tfL)" stroke="#d56b2a" stroke-width="1.2" stroke-linejoin="round"/><path d="M242.2 452.8L320.7 415.6L322.4 467.3L242.2 511.9Z" fill="url(#tfR)" stroke="#d56b2a" stroke-width="1.2" stroke-linejoin="round"/><path d="M85.7 369L242.2 452.8L242.2 460.3L85.7 376.5Z" fill="#e6ad5e"/><path d="M242.2 452.8L320.7 415.6L320.7 423.1L242.2 460.3Z" fill="#ecbb70"/><path d="M85.7 376.5L242.2 460.3L320.7 423.1" fill="none" stroke="#d98a3c" stroke-width="0.8" stroke-linecap="round" stroke-linejoin="round"/><path d="M242.2 452.8L242.2 511.9" fill="none" stroke="#d56b2a" stroke-width="1.2" stroke-linecap="round" stroke-linejoin="round"/><path d="M163 324L320.7 415.6L242.2 452.8L85.7 369Z" fill="#d9974f" stroke="#d56b2a" stroke-width="1.2" stroke-linejoin="round"/><path d="M164 329.1L309.5 413.3L241.1 447L96 368.6Z" fill="#c07a39"/><path d="M165.1 334.2L305.6 415.2L241.1 447L101 371.3Z" fill="#d38e49"/><path d="M165.1 334.2L305.6 415.2L241.1 447L101 371.3L165.1 334.2" fill="none" stroke="#b5622a" stroke-width="0.5" stroke-linecap="round" stroke-linejoin="round"/><path d="M166.1 339.3L294.2 412.9L240.1 441.2L111.4 370.9Z" fill="#bb7335"/><path d="M167.1 344.4L290.4 414.9L240.1 441.2L116.4 373.6Z" fill="#cd8543"/><path d="M167.1 344.4L290.4 414.9L240.1 441.2L116.4 373.6L167.1 344.4" fill="none" stroke="#b5622a" stroke-width="0.5" stroke-linecap="round" stroke-linejoin="round"/><path d="M168.1 349.5L278.9 412.4L239.1 435.4L126.8 373.2Z" fill="#b66c31"/><path d="M169.1 354.6L275.3 414.5L239.1 435.4L131.8 376Z" fill="#c77d3d"/><path d="M169.1 354.6L275.3 414.5L239.1 435.4L131.8 376L169.1 354.6" fill="none" stroke="#b5622a" stroke-width="0.5" stroke-linecap="round" stroke-linejoin="round"/><path d="M170.2 359.7L263.4 411.9L238 429.6L142.2 375.5Z" fill="#ae622a"/><path d="M171.2 364.8L260.2 414.1L238 429.6L147.1 378.3Z" fill="#c96a30"/><path d="M171.2 364.8L260.2 414.1L238 429.6L147.1 378.3L171.2 364.8" fill="none" stroke="#b5622a" stroke-width="0.5" stroke-linecap="round" stroke-linejoin="round"/><path d="M171.2 364.8L190.8 375.6L147.1 378.3L147.1 378.3Z" fill="#b85a27" opacity=".55"/><g fill="#f9cfa8" opacity="1" stroke="#f9cfa8" stroke-width="0.5" stroke-linejoin="round" font-family="'Liberation Sans','Noto Sans CJK SC',sans-serif" font-size="26" font-weight="bold"><text transform="matrix(0.86 0.47 -0.8 0.52 171.5 391.3)" x="1.5" y="0">实</text><text transform="matrix(0.86 0.47 -0.8 0.52 200.1 406.9)" x="1.5" y="0">际</text></g><g fill="#d06c30" opacity="1" stroke="#d06c30" stroke-width="0.7" stroke-linejoin="round" font-family="'Liberation Sans','Noto Sans CJK SC',sans-serif" font-size="34" font-weight="bold"><text transform="matrix(0.88 -0.47 0 1 246.7 495.4)" x="1.5" y="0">会</text><text transform="matrix(0.88 -0.47 0 1 282.5 476.3)" x="1.5" y="0">议</text></g><path d="M128 312.3L152 315.5L160 322L146 348L131.3 338.9Z" fill="#fffaf0" stroke="#e2a34c" stroke-width="1.3" stroke-linejoin="round"/><path d="M120.5 313.2L129.7 309L134.2 313.4L131.3 328.4L123.8 326.4Z" fill="#ecbc66" stroke="#dd9a42" stroke-width="1.0" stroke-linejoin="round"/><g transform="translate(152.3 331.6) rotate(17)"><ellipse rx="13.4" ry="17.4" fill="#fdf3dc" stroke="#e0a049" stroke-width="1.5"/><ellipse rx="9.6" ry="13" fill="#fffaf0" stroke="#f0cc85" stroke-width="1.7"/><ellipse cx="-0.6" rx="3.4" ry="5" fill="#f3cf86" stroke="#e2a34c" stroke-width="1.1"/></g><path d="M149.5 350L152 349L155.2 354.5L153.2 355.5Z" fill="#fff" stroke="#d56b2a" stroke-width="0.7" stroke-linejoin="round"/><path d="M122.6 334.2q3.4 -2.4 6 0.6q1.2 3.2 -1.6 5.2q-3.6 0.8 -5.2 -1.6z" fill="#fff" stroke="#d56b2a" stroke-width="0.8"/><path d="M195.8 308.2L190.2 314.2L167.2 344.4L169.5 347.8L194.2 329.2L199.7 320.2Z" fill="#f2a378" stroke="#d56b2a" stroke-width="1.6" stroke-linejoin="round"/><path d="M193.7 315.2L171.7 343.2" fill="none" stroke="#fac9a8" stroke-width="1.6" stroke-linecap="round" stroke-linejoin="round"/><path d="M167.2 344.4Q162.9 346.6 163.1 351.4Q167.5 351.6 169.5 347.8Z" fill="#fff" stroke="#d56b2a" stroke-width="0.8" stroke-linejoin="round"/><path d="M222.3 315.6L224.9 323.2L218.7 336.2L191.5 359L188.9 355.4L211.7 332.2L215.7 320.2Z" fill="#f2a378" stroke="#d56b2a" stroke-width="1.6" stroke-linejoin="round"/><path d="M217.2 324.2L212.7 334.2L192.7 354.7" fill="none" stroke="#fac9a8" stroke-width="1.6" stroke-linecap="round" stroke-linejoin="round"/><path d="M188.9 355.4Q184.4 357.8 184.7 362.8Q189.3 363.1 191.5 359Z" fill="#fff" stroke="#d56b2a" stroke-width="0.8" stroke-linejoin="round"/><path d="M242.2 334.8L236.6 340.8L213.6 371L215.9 374.4L240.6 355.8L246.1 346.8Z" fill="#f2a378" stroke="#d56b2a" stroke-width="1.6" stroke-linejoin="round"/><path d="M240.1 341.8L218.1 369.8" fill="none" stroke="#fac9a8" stroke-width="1.6" stroke-linecap="round" stroke-linejoin="round"/><path d="M213.6 371Q209.3 373.2 209.5 378Q213.9 378.2 215.9 374.4Z" fill="#fff" stroke="#d56b2a" stroke-width="0.8" stroke-linejoin="round"/><path d="M268.7 342.2L271.3 349.8L265.1 362.8L237.9 385.6L235.3 382L258.1 358.8L262.1 346.8Z" fill="#f2a378" stroke="#d56b2a" stroke-width="1.6" stroke-linejoin="round"/><path d="M263.6 350.8L259.1 360.8L239.1 381.3" fill="none" stroke="#fac9a8" stroke-width="1.6" stroke-linecap="round" stroke-linejoin="round"/><path d="M235.3 382Q230.8 384.4 231.1 389.4Q235.7 389.7 237.9 385.6Z" fill="#fff" stroke="#d56b2a" stroke-width="0.8" stroke-linejoin="round"/><path d="M290.3 363L284.7 369L261.7 399.2L264 402.6L288.7 384L294.2 375Z" fill="#f2a378" stroke="#d56b2a" stroke-width="1.6" stroke-linejoin="round"/><path d="M288.2 370L266.2 398" fill="none" stroke="#fac9a8" stroke-width="1.6" stroke-linecap="round" stroke-linejoin="round"/><path d="M261.7 399.2Q257.4 401.4 257.6 406.2Q262 406.4 264 402.6Z" fill="#fff" stroke="#d56b2a" stroke-width="0.8" stroke-linejoin="round"/><path d="M316.8 370.4L319.4 378L313.2 391L286 413.8L283.4 410.2L306.2 387L310.2 375Z" fill="#f2a378" stroke="#d56b2a" stroke-width="1.6" stroke-linejoin="round"/><path d="M311.7 379L307.2 389L287.2 409.5" fill="none" stroke="#fac9a8" stroke-width="1.6" stroke-linecap="round" stroke-linejoin="round"/><path d="M283.4 410.2Q278.9 412.6 279.2 417.6Q283.8 417.9 286 413.8Z" fill="#fff" stroke="#d56b2a" stroke-width="0.8" stroke-linejoin="round"/><path d="M120.2 391.5L124.2 409.5L130.2 407.5L134.6 395.9L138 397.9L134.2 413.5L125.2 426.5L118.2 421.5Z" fill="#fdd6ac" stroke="#d56b2a" stroke-width="1.6" stroke-linejoin="round"/><path d="M138 397.9Q141 394.9 139.6 390.9Q135.5 391.8 134.6 395.9Z" fill="#fff" stroke="#d56b2a" stroke-width="0.8" stroke-linejoin="round"/><path d="M88.6 384.1L100.2 378.5L106.2 380L113.2 379.5L121.8 390.7L123.8 409.5L119.2 427.5L116.2 447.5L96.2 439.5L86.2 427.5L87.2 405.5Z" fill="#fdd6ac" stroke="#d56b2a" stroke-width="1.7" stroke-linejoin="round"/><path d="M116.2 399.5L117.7 413.5L113.2 429.5" fill="none" stroke="#f0a87a" stroke-width="0.9" stroke-linecap="round" stroke-linejoin="round"/><path d="M101.2 379.1L107.2 382.1L113.8 379.9" fill="none" stroke="#d56b2a" stroke-width="0.9" stroke-linecap="round" stroke-linejoin="round"/><ellipse cx="108.2" cy="369.5" rx="7.3" ry="8.2" fill="#f59a68" stroke="#d56b2a" stroke-width="1.6"/><path d="M106.2 374.9 q3.4 3.6 7.6 0.8 l0.8 -5 q-4 2.6 -8.6 0z" fill="#fbe3cf" opacity=".85"/><path d="M115.2 425.5L127.8 427.5L128.4 450L130.6 452.7L123.6 454.7L119.4 447.5Z" fill="#fbbd9c" stroke="#d56b2a" stroke-width="1.3" stroke-linejoin="round"/><path d="M118.2 432.5L122.2 430.5L122.2 455.5L118.7 457.5Z" fill="#e58a36" stroke="#d56b2a" stroke-width="1.3" stroke-linejoin="round"/><path d="M96.9 431.5L120.2 419.5L124.2 422L100.2 435.5Z" fill="#eebb62" stroke="#d56b2a" stroke-width="1.3" stroke-linejoin="round"/><path d="M96.9 435.5L124 422L124 427.5L96.9 442Z" fill="#e6a64c" stroke="#d56b2a" stroke-width="1.3" stroke-linejoin="round"/><path d="M67.6 427.5L71.8 429.7L71.8 462.5L67.6 464Z" fill="#e58a36" stroke="#d56b2a" stroke-width="1.4" stroke-linejoin="round"/><path d="M91.8 440.5L96.9 443.1L96.9 475.5L92.4 477.3L91.8 476.3Z" fill="#e58a36" stroke="#d56b2a" stroke-width="1.4" stroke-linejoin="round"/><path d="M67.1 389.9L94.4 404L96.9 444.7L67.9 429.7Z" fill="#f3c76f" stroke="#d56b2a" stroke-width="1.7" stroke-linejoin="round"/><path d="M67.1 389.9L69.3 388.7L96.8 402.7L94.4 404Z" fill="#f8dc96" stroke="#d56b2a" stroke-width="0.9" stroke-linejoin="round"/><path d="M94.4 404L96.8 402.7L99.2 443.3L96.9 444.7Z" fill="#e9973f" stroke="#d56b2a" stroke-width="0.9" stroke-linejoin="round"/><path d="M166.2 416.4L170.2 434.4L176.2 432.4L180.6 420.8L184 422.8L180.2 438.4L171.2 451.4L164.2 446.4Z" fill="#fdd6ac" stroke="#d56b2a" stroke-width="1.6" stroke-linejoin="round"/><path d="M184 422.8Q187 419.8 185.6 415.8Q181.5 416.7 180.6 420.8Z" fill="#fff" stroke="#d56b2a" stroke-width="0.8" stroke-linejoin="round"/><path d="M134.6 409L146.2 403.4L152.2 404.9L159.2 404.4L167.8 415.6L169.8 434.4L165.2 452.4L162.2 472.4L142.2 464.4L132.2 452.4L133.2 430.4Z" fill="#fdd6ac" stroke="#d56b2a" stroke-width="1.7" stroke-linejoin="round"/><path d="M162.2 424.4L163.7 438.4L159.2 454.4" fill="none" stroke="#f0a87a" stroke-width="0.9" stroke-linecap="round" stroke-linejoin="round"/><path d="M147.2 404L153.2 407L159.8 404.8" fill="none" stroke="#d56b2a" stroke-width="0.9" stroke-linecap="round" stroke-linejoin="round"/><ellipse cx="154.2" cy="394.4" rx="7.3" ry="8.2" fill="#f59a68" stroke="#d56b2a" stroke-width="1.6"/><path d="M152.2 399.8 q3.4 3.6 7.6 0.8 l0.8 -5 q-4 2.6 -8.6 0z" fill="#fbe3cf" opacity=".85"/><path d="M161.2 450.4L173.8 452.4L174.4 474.9L176.6 477.6L169.6 479.6L165.4 472.4Z" fill="#fbbd9c" stroke="#d56b2a" stroke-width="1.3" stroke-linejoin="round"/><path d="M164.2 457.4L168.2 455.4L168.2 480.4L164.7 482.4Z" fill="#e58a36" stroke="#d56b2a" stroke-width="1.3" stroke-linejoin="round"/><path d="M142.9 456.4L166.2 444.4L170.2 446.9L146.2 460.4Z" fill="#eebb62" stroke="#d56b2a" stroke-width="1.3" stroke-linejoin="round"/><path d="M142.9 460.4L170 446.9L170 452.4L142.9 466.9Z" fill="#e6a64c" stroke="#d56b2a" stroke-width="1.3" stroke-linejoin="round"/><path d="M113.6 452.4L117.8 454.6L117.8 487.4L113.6 488.9Z" fill="#e58a36" stroke="#d56b2a" stroke-width="1.4" stroke-linejoin="round"/><path d="M137.8 465.4L142.9 468L142.9 500.4L138.4 502.2L137.8 501.2Z" fill="#e58a36" stroke="#d56b2a" stroke-width="1.4" stroke-linejoin="round"/><path d="M113.1 414.8L140.4 428.9L142.9 469.6L113.9 454.6Z" fill="#f3c76f" stroke="#d56b2a" stroke-width="1.7" stroke-linejoin="round"/><path d="M113.1 414.8L115.3 413.6L142.8 427.6L140.4 428.9Z" fill="#f8dc96" stroke="#d56b2a" stroke-width="0.9" stroke-linejoin="round"/><path d="M140.4 428.9L142.8 427.6L145.2 468.2L142.9 469.6Z" fill="#e9973f" stroke="#d56b2a" stroke-width="0.9" stroke-linejoin="round"/><path d="M211 442.5L215 460.5L221 458.5L225.4 446.9L228.8 448.9L225 464.5L216 477.5L209 472.5Z" fill="#fdd6ac" stroke="#d56b2a" stroke-width="1.6" stroke-linejoin="round"/><path d="M228.8 448.9Q231.8 445.9 230.4 441.9Q226.3 442.8 225.4 446.9Z" fill="#fff" stroke="#d56b2a" stroke-width="0.8" stroke-linejoin="round"/><path d="M179.4 435.1L191 429.5L197 431L204 430.5L212.6 441.7L214.6 460.5L210 478.5L207 498.5L187 490.5L177 478.5L178 456.5Z" fill="#fdd6ac" stroke="#d56b2a" stroke-width="1.7" stroke-linejoin="round"/><path d="M207 450.5L208.5 464.5L204 480.5" fill="none" stroke="#f0a87a" stroke-width="0.9" stroke-linecap="round" stroke-linejoin="round"/><path d="M192 430.1L198 433.1L204.6 430.9" fill="none" stroke="#d56b2a" stroke-width="0.9" stroke-linecap="round" stroke-linejoin="round"/><ellipse cx="199" cy="420.5" rx="7.3" ry="8.2" fill="#f59a68" stroke="#d56b2a" stroke-width="1.6"/><path d="M197 425.9 q3.4 3.6 7.6 0.8 l0.8 -5 q-4 2.6 -8.6 0z" fill="#fbe3cf" opacity=".85"/><path d="M206 476.5L218.6 478.5L219.2 501L221.4 503.7L214.4 505.7L210.2 498.5Z" fill="#fbbd9c" stroke="#d56b2a" stroke-width="1.3" stroke-linejoin="round"/><path d="M209 483.5L213 481.5L213 506.5L209.5 508.5Z" fill="#e58a36" stroke="#d56b2a" stroke-width="1.3" stroke-linejoin="round"/><path d="M187.7 482.5L211 470.5L215 473L191 486.5Z" fill="#eebb62" stroke="#d56b2a" stroke-width="1.3" stroke-linejoin="round"/><path d="M187.7 486.5L214.8 473L214.8 478.5L187.7 493Z" fill="#e6a64c" stroke="#d56b2a" stroke-width="1.3" stroke-linejoin="round"/><path d="M158.4 478.5L162.6 480.7L162.6 513.5L158.4 515Z" fill="#e58a36" stroke="#d56b2a" stroke-width="1.4" stroke-linejoin="round"/><path d="M182.6 491.5L187.7 494.1L187.7 526.5L183.2 528.3L182.6 527.3Z" fill="#e58a36" stroke="#d56b2a" stroke-width="1.4" stroke-linejoin="round"/><path d="M157.9 440.9L185.2 455L187.7 495.7L158.7 480.7Z" fill="#f3c76f" stroke="#d56b2a" stroke-width="1.7" stroke-linejoin="round"/><path d="M157.9 440.9L160.1 439.7L187.6 453.7L185.2 455Z" fill="#f8dc96" stroke="#d56b2a" stroke-width="0.9" stroke-linejoin="round"/><path d="M185.2 455L187.6 453.7L190 494.3L187.7 495.7Z" fill="#e9973f" stroke="#d56b2a" stroke-width="0.9" stroke-linejoin="round"/>
<rect x="676.65" y="266.1" width="262.35" height="43.4" rx="9.5" fill="#fff5de" filter="url(#bglow)"/><rect x="654.1" y="318.6" width="185.5" height="41.1" rx="9.5" fill="#fff5de" filter="url(#bglow)"/><rect x="865.75" y="318.6" width="185.85" height="41.1" rx="9.5" fill="#fff5de" filter="url(#bglow)"/><rect x="1071.5" y="318.6" width="67.2" height="41.1" rx="9.5" fill="#fff5de" filter="url(#bglow)"/><rect x="469.4" y="360.1" width="238" height="40.8" rx="9.5" fill="#fff5de" filter="url(#bglow)"/><rect x="594.6" y="409.1" width="112.9" height="40.5" rx="9.5" fill="#fff5de" filter="url(#bglow)"/><rect x="946.6" y="409.1" width="190.6" height="40.5" rx="9.5" fill="#fff5de" filter="url(#bglow)"/><rect x="468.8" y="450.2" width="87.4" height="40.2" rx="9.5" fill="#fff5de" filter="url(#bglow)"/><rect x="852" y="501.5" width="134.7" height="40.6" rx="9.5" fill="#fff5de" filter="url(#bglow)"/><rect x="874.2" y="552.2" width="266.1" height="40.7" rx="9.5" fill="#fff5de" filter="url(#bglow)"/><rect x="468.8" y="594.2" width="212.8" height="40.3" rx="9.5" fill="#fff5de" filter="url(#bglow)"/><rect x="678.45" y="267.9" width="258.75" height="39.8" rx="8" fill="#94291a"/><rect x="655.9" y="320.4" width="181.9" height="37.5" rx="8" fill="#94291a"/><rect x="867.55" y="320.4" width="182.25" height="37.5" rx="8" fill="#94291a"/><rect x="1073.3" y="320.4" width="63.6" height="37.5" rx="8" fill="#94291a"/><rect x="471.2" y="361.9" width="234.4" height="37.2" rx="8" fill="#94291a"/><rect x="596.4" y="410.9" width="109.3" height="36.9" rx="8" fill="#94291a"/><rect x="948.4" y="410.9" width="187" height="36.9" rx="8" fill="#94291a"/><rect x="470.6" y="452" width="83.8" height="36.6" rx="8" fill="#94291a"/><rect x="853.8" y="503.3" width="131.1" height="37" rx="8" fill="#94291a"/><rect x="876" y="554" width="262.5" height="37.1" rx="8" fill="#94291a"/><rect x="470.6" y="596" width="209.2" height="36.7" rx="8" fill="#94291a"/><g filter="url(#tglow)" fill="#fff8e8" stroke="#fff8e8" stroke-width="3.6" stroke-linejoin="round" font-family="'Liberation Serif','Noto Serif CJK SC',serif" font-size="24.9"><text x="775.73 800.63 825.53 850.43 876.88" y="244.7">具体包括:</text><text x="525.71 549.58 576.11 601.3 626.2 651.1" y="297.2">（一）热衷于</text><text x="525.31 549.48 575.91 601.63 626.8" y="349.1">（二）单纯</text><text x="841.83" y="349.1">、</text><text x="1051.56" y="349.1">,</text><text x="525.41 549.7 575.91" y="438.9">（三）</text><text x="706.96" y="438.9">,</text><text x="727.93 753.1 778.27 803.44" y="438.9">不作深入</text><text x="933.16" y="438.9">,</text><text x="525.41 548.21 575.91 600.95 625.85" y="530.9">（四）违反</text><text x="751.08 775.98 800.88 825.78" y="530.9">有关规定</text><text x="525.41 549.8 575.91 601.58" y="582.2">（五）在</text><text x="775.95 800.88 825.81 850.74" y="582.2">等工作中</text><text x="525.41 549.68 575.91 602 626.9 651.8" y="675.6">（六）工作中</text><text x="726.35 751.25 776.15 801.05 825.95 850.85 875.75 900.65 925.55 950.45 975.35" y="675.6">形式主义、官僚主义行为</text><g font-weight="bold"><text x="475 499.9 524.8 549.7 574.6 599.5 624.4 649.3 674.2 699.1 724 748.9" y="244.7">搞形式主义、官僚主义行为</text><text x="828.13 853.3 878.47 903.64" y="438.9">调查研究</text><text x="652.98 677.88 702.78 727.68" y="530.9">精文减会</text><text x="627.08 652.01 676.94 701.87 726.8 751.73" y="582.2">督查检查考核</text><text x="676.13 701.03" y="675.6">其他</text></g><rect x="475.6" y="252.3" width="297.4" height="2.5" fill="#8e2614"/><rect x="728.7" y="445.7" width="200.7" height="2.5" fill="#8e2614"/><rect x="600.9" y="537.7" width="247.5" height="2.5" fill="#8e2614"/><rect x="600.9" y="588.7" width="273.1" height="2.5" fill="#8e2614"/><rect x="601.9" y="681.3" width="399.1" height="2.5" fill="#8e2614"/></g><rect x="475.6" y="252.3" width="297.4" height="2.5" fill="#8e2614"/><rect x="728.7" y="445.7" width="200.7" height="2.5" fill="#8e2614"/><rect x="600.9" y="537.7" width="247.5" height="2.5" fill="#8e2614"/><rect x="600.9" y="588.7" width="273.1" height="2.5" fill="#8e2614"/><rect x="601.9" y="681.3" width="399.1" height="2.5" fill="#8e2614"/><g fill="#e3511a" stroke="#e3511a" stroke-width=".22" stroke-linejoin="round" font-family="'Liberation Serif','Noto Serif CJK SC',serif" font-size="24.9"><text x="775.73 800.63 825.53 850.43 876.88" y="244.7">具体包括:</text><text x="525.71 549.58 576.11 601.3 626.2 651.1" y="297.2">（一）热衷于</text><text x="525.31 549.48 575.91 601.63 626.8" y="349.1">（二）单纯</text><text x="841.83" y="349.1">、</text><text x="1051.56" y="349.1">,</text><text x="525.41 549.7 575.91" y="438.9">（三）</text><text x="706.96" y="438.9">,</text><text x="727.93 753.1 778.27 803.44" y="438.9">不作深入</text><text x="933.16" y="438.9">,</text><text x="525.41 548.21 575.91 600.95 625.85" y="530.9">（四）违反</text><text x="751.08 775.98 800.88 825.78" y="530.9">有关规定</text><text x="525.41 549.8 575.91 601.58" y="582.2">（五）在</text><text x="775.95 800.88 825.81 850.74" y="582.2">等工作中</text><text x="525.41 549.68 575.91 602 626.9 651.8" y="675.6">（六）工作中</text><text x="726.35 751.25 776.15 801.05 825.95 850.85 875.75 900.65 925.55 950.45 975.35" y="675.6">形式主义、官僚主义行为</text></g><g fill="#e3511a" font-family="'Liberation Serif','Noto Serif CJK SC',serif" font-size="24.9" font-weight="bold"><text x="475 499.9 524.8 549.7 574.6 599.5 624.4 649.3 674.2 699.1 724 748.9" y="244.7">搞形式主义、官僚主义行为</text><text x="828.13 853.3 878.47 903.64" y="438.9">调查研究</text><text x="652.98 677.88 702.78 727.68" y="530.9">精文减会</text><text x="627.08 652.01 676.94 701.87 726.8 751.73" y="582.2">督查检查考核</text><text x="676.13 701.03" y="675.6">其他</text></g><g fill="#fff4df" stroke="#fff4df" stroke-width=".15" stroke-linejoin="round" font-family="'Liberation Serif','Noto Serif CJK SC',serif" font-size="24.9"><text x="682.2 707.1 732 756.9 781.8 806.7 831.6 856.5 881.4 906.3" y="297.2">搞舆论造势、浮在表面</text><text x="658.16 683.33 708.5 733.67 758.84 784.01 809.18" y="349.1">以会议贯彻会议</text><text x="869.39 894.56 919.73 944.9 970.07 995.24 1020.41" y="349.1">以文件落实文件</text><text x="1078.58 1103.75" y="349.1">在实</text><text x="473.63 498.53 523.43 548.33 573.23 598.13 623.03 647.93 672.83" y="390.5">际工作中不见诸行动</text><text x="600.73 625.9 651.07 676.24" y="438.9">脱离实际</text><text x="953.1 978.27 1003.44 1028.61 1053.78 1085.63 1105.08" y="438.9">搞随意决策、机</text><text x="475.05 499.95 524.85" y="480.6">械执行</text><text x="857.05 881.95 906.85 931.75 956.65" y="530.9">搞文山会海</text><text x="879.9 904.83 929.76 954.69 979.62 1004.55 1029.48 1054.41 1079.34 1104.27 1129.26" y="582.2">搞层层加码、过度留痕,</text><text x="475.13 500.03 524.93 549.83 574.73 599.63 624.53 649.43" y="624.6">增加基层工作负担</text></g>
</svg>
<h1 class="sr" style="left:118px;top:58px;width:90px;height:94px;font-size:44px;line-height:46px;white-space:normal">课程导学</h1>
<p class="sr" style="left:475px;top:218px"><b><u>搞形式主义、官僚主义行为</u></b>具体包括:</p>
<p class="sr" style="left:525px;top:269px">（一）热衷于<mark>搞舆论造势、浮在表面</mark></p>
<p class="sr" style="left:525px;top:321px">（二）单纯<mark>以会议贯彻会议</mark>、<mark>以文件落实文件</mark>,<mark>在实</mark></p>
<p class="sr" style="left:475px;top:362px"><mark>际工作中不见诸行动</mark></p>
<p class="sr" style="left:525px;top:411px">（三）<mark>脱离实际</mark>,<u>不作深入<b>调查研究</b></u>,<mark>搞随意决策 、机</mark></p>
<p class="sr" style="left:475px;top:452px"><mark>械执行</mark></p>
<p class="sr" style="left:525px;top:504px">（四）<u>违反<b>精文减会</b>有关规定</u><mark>搞文山会海</mark></p>
<p class="sr" style="left:525px;top:555px">（五）<u>在<b>督查检查考核</b>等工作中</u><mark>搞层层加码、过度留痕,</mark></p>
<p class="sr" style="left:475px;top:596px"><mark>增加基层工作负担</mark></p>
<p class="sr" style="left:525px;top:648px">（六）<u>工作中<b>其他</b>形式主义、官僚主义行为</u></p>
<span class="sr" style="left:300px;top:320px;font-size:30px">文件</span><span class="sr" style="left:250px;top:440px;font-size:30px">会议</span><span class="sr" style="left:180px;top:385px;font-size:24px">实际</span>
</div>
</body></html>
